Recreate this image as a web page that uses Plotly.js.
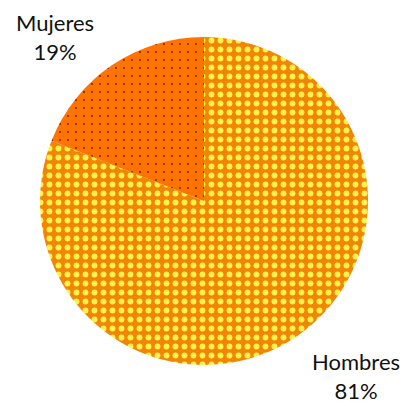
<!DOCTYPE html>
<html><head><meta charset="utf-8">
<script src="https://cdn.plot.ly/plotly-3.0.1.min.js"></script>
<style>html,body{margin:0;padding:0;background:#fff}</style>
</head><body>
<div id="chart" style="width:403px;height:406px"></div>
<script>
const labels = ['Hombres', 'Mujeres'];
const values = [81, 19];
const pctText = ['81%', '19%'];

const data = [{
  type: 'pie',
  labels: labels,
  values: values,
  sort: false,
  direction: 'clockwise',
  rotation: 0,
  textinfo: 'none',
  hoverinfo: 'label+percent',
  showlegend: false,
  domain: {x: [40/403, 368/403], y: [1 - 365/406, 1 - 37/406]},
  marker: {
    colors: ['#F08506', '#FF7300'],
    line: {width: 0},
    pattern: {
      shape: ['.', '.'],
      fgcolor: ['#FFF04A', '#6A1800'],
      size: [9, 8],
      solidity: [0.34, 0.04],
      fgopacity: 1,
      fillmode: 'overlay'
    }
  }
}];

const font = {family: 'Lato, "Open Sans", sans-serif', size: 22, color: '#111'};
const layout = {
  width: 403, height: 406,
  margin: {l: 0, r: 0, t: 0, b: 0},
  paper_bgcolor: '#fff',
  showlegend: false,
  annotations: [
    {text: labels[1] + '<br>' + pctText[1], x: 55/403, y: 1 - 37/406, xref: 'paper', yref: 'paper',
     showarrow: false, font: font, align: 'center', xanchor: 'center', yanchor: 'middle'},
    {text: labels[0] + '<br>' + pctText[0], x: 356/403, y: 1 - 376/406, xref: 'paper', yref: 'paper',
     showarrow: false, font: font, align: 'center', xanchor: 'center', yanchor: 'middle'}
  ]
};
Plotly.newPlot('chart', data, layout, {displayModeBar: false});
</script>
</body></html>
